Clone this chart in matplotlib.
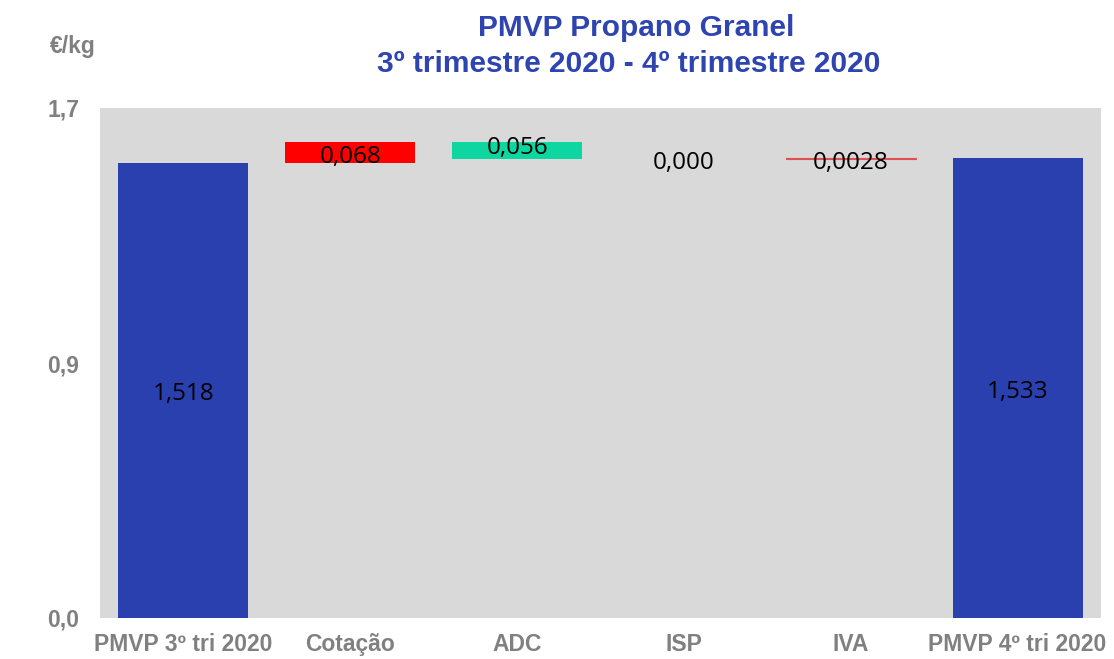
import matplotlib
matplotlib.use('Agg')
import matplotlib.pyplot as plt
import numpy as np

# data
categories = ['PMVP 3º tri 2020', 'Cotação', 'ADC', 'ISP', 'IVA', 'PMVP 4º tri 2020']
values = [1.518, 0.068, -0.056, 0.000, 0.0028, 1.533]
is_total = [True, False, False, False, False, True]
value_labels = ['1,518', '0,068', '0,056', '0,000', '0,0028', '1,533']
y_ticks = [0.0, 0.85, 1.7]
y_tick_labels = ['0,0', '0,9', '1,7']

blue = '#2a40ae'
up_col = '#ff0000'
down_col = '#0dd6a0'
grey_txt = '#808080'

fig = plt.figure(figsize=(11.14, 6.59), dpi=100)
ax = fig.add_axes([100/1114, 1 - 618/659, 1001/1114, 510/659])
ax.set_facecolor('#d9d9d9')

x = np.arange(len(categories))
bottoms, heights, colors = [], [], []
level = 0.0
for v, tot in zip(values, is_total):
    if tot:
        bottoms.append(0.0)
        heights.append(v)
        colors.append(blue)
        level = v
    else:
        if v >= 0:
            bottoms.append(level)
            colors.append(up_col)
        else:
            bottoms.append(level + v)
            colors.append(down_col)
        heights.append(abs(v))
        level += v

ax.bar(x, heights, bottom=bottoms, width=0.78, color=colors, linewidth=0)
# IVA delta is so thin it shows as a hairline
ax.bar(x[4], heights[4], bottom=bottoms[4], width=0.78, color='none',
       edgecolor='#e05050', linewidth=0.8)

for xi, b, h, lab, v in zip(x, bottoms, heights, value_labels, values):
    dy = 2 if v < 0 else -3
    ax.annotate(lab, (xi, b + h / 2), xytext=(0, dy), textcoords='offset points',
                ha='center', va='center', fontsize=17.5,
                family='Open Sans', color='black')

ax.set_xlim(-0.5, len(categories) - 0.5)
ax.set_ylim(0, 1.7)
ax.set_yticks(y_ticks)
ax.set_yticklabels(y_tick_labels)
ax.set_xticks(x)
ax.set_xticklabels(categories)
for s in ax.spines.values():
    s.set_visible(False)
ax.tick_params(length=0)
ax.tick_params(axis='y', pad=15)
ax.tick_params(axis='x', pad=11)
for t in ax.get_xticklabels() + ax.get_yticklabels():
    t.set_fontweight('bold')
    t.set_fontsize(16.5)
    t.set_color(grey_txt)
    t.set_family('Liberation Sans')

fig.text(636/1114, 1 - 28/659, 'PMVP Propano Granel', ha='center', va='center',
         fontsize=21.5, fontweight='bold', color='#2e44b0', family='Liberation Sans')
fig.text(629/1114, 1 - 64/659, '3º trimestre 2020 - 4º trimestre 2020', ha='center',
         va='center', fontsize=21.5, fontweight='bold', color='#2e44b0',
         family='Liberation Sans')
fig.text(50/1114, 1 - 46/659, '€/kg', ha='left', va='center', fontsize=16.5,
         fontweight='bold', color=grey_txt, family='Liberation Sans')

fig.savefig('out.png', dpi=100)
